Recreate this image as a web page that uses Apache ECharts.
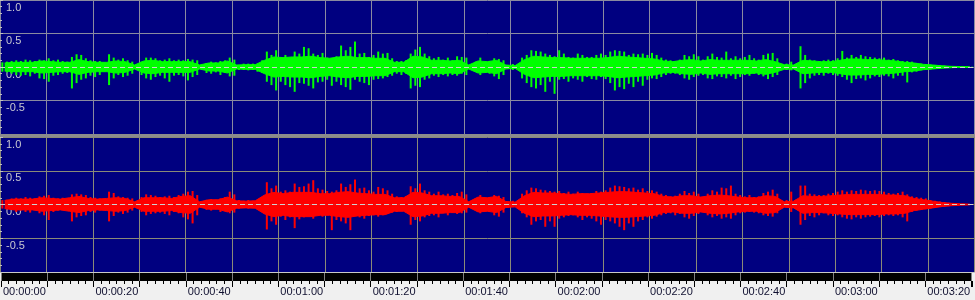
<!DOCTYPE html>
<html><head><meta charset="utf-8">
<script src="https://cdn.jsdelivr.net/npm/echarts@6/dist/echarts.min.js"></script>
<style>html,body{margin:0;padding:0;background:#f0f0f0;}#c{width:975px;height:300px;}</style>
</head><body><div id="c"></div>
<script>
// ---- data (amplitude envelopes) ----
// per-second peaks, seconds 0..209
const leftHi = [
0.07,0.08,0.09,0.10,0.09,0.11,0.10,0.09,0.11,0.10,
0.13,0.10,0.11,0.09,0.08,0.15,0.19,0.18,0.13,0.10,
0.09,0.09,0.05,0.19,0.14,0.11,0.13,0.10,0.08,0.025,
0.08,0.14,0.14,0.13,0.10,0.11,0.13,0.10,0.11,0.10,
0.12,0.11,0.10,0.03,0.06,0.08,0.07,0.09,0.10,0.14,
0.11,0.03,0.05,0.05,0.05,0.03,0.10,0.23,0.18,0.25,
0.15,0.18,0.13,0.23,0.20,0.30,0.28,0.20,0.18,0.21,
0.14,0.13,0.16,0.32,0.25,0.30,0.38,0.20,0.21,0.15,
0.18,0.23,0.20,0.21,0.13,0.09,0.09,0.10,0.20,0.26,
0.30,0.20,0.16,0.13,0.15,0.11,0.14,0.10,0.16,0.15,
0.14,0.025,0.08,0.14,0.08,0.09,0.13,0.12,0.10,0.03,
0.045,0.025,0.14,0.18,0.25,0.24,0.23,0.20,0.18,0.16,
0.25,0.20,0.15,0.14,0.20,0.18,0.15,0.15,0.18,0.20,
0.18,0.23,0.25,0.24,0.23,0.18,0.20,0.19,0.20,0.18,
0.21,0.18,0.14,0.11,0.10,0.09,0.11,0.18,0.16,0.19,
0.16,0.11,0.16,0.20,0.15,0.14,0.23,0.13,0.16,0.13,
0.15,0.18,0.13,0.11,0.18,0.20,0.21,0.13,0.045,0.05,
0.08,0.04,0.31,0.18,0.11,0.10,0.09,0.10,0.11,0.10,
0.13,0.24,0.14,0.18,0.15,0.18,0.16,0.15,0.14,0.13,
0.14,0.11,0.12,0.10,0.09,0.09,0.08,0.06,0.05,0.045,
0.035,0.03,0.025,0.02,0.015,0.01,0.008,0.006,0.005,0.005];
const leftLo = [
-0.07,-0.08,-0.10,-0.12,-0.13,-0.12,-0.14,-0.10,-0.17,-0.18,
-0.22,-0.13,-0.12,-0.10,-0.09,-0.32,-0.24,-0.19,-0.17,-0.13,
-0.15,-0.12,-0.07,-0.27,-0.17,-0.12,-0.15,-0.13,-0.10,-0.025,
-0.12,-0.17,-0.19,-0.15,-0.13,-0.17,-0.22,-0.13,-0.12,-0.14,
-0.20,-0.15,-0.12,-0.025,-0.09,-0.10,-0.08,-0.12,-0.09,-0.14,
-0.13,-0.045,-0.045,-0.05,-0.045,-0.07,-0.09,-0.22,-0.27,-0.35,
-0.22,-0.27,-0.30,-0.37,-0.24,-0.25,-0.28,-0.32,-0.23,-0.22,
-0.19,-0.28,-0.22,-0.27,-0.30,-0.34,-0.19,-0.22,-0.24,-0.27,
-0.19,-0.18,-0.17,-0.15,-0.13,-0.10,-0.12,-0.10,-0.32,-0.28,
-0.30,-0.19,-0.17,-0.13,-0.15,-0.12,-0.14,-0.12,-0.13,-0.10,
-0.12,-0.025,-0.07,-0.12,-0.07,-0.10,-0.14,-0.18,-0.12,-0.03,
-0.045,-0.02,-0.17,-0.24,-0.30,-0.32,-0.27,-0.37,-0.22,-0.40,
-0.19,-0.18,-0.22,-0.17,-0.19,-0.22,-0.15,-0.18,-0.19,-0.15,
-0.18,-0.24,-0.35,-0.30,-0.33,-0.25,-0.30,-0.22,-0.28,-0.19,
-0.17,-0.18,-0.15,-0.12,-0.10,-0.10,-0.12,-0.17,-0.19,-0.15,
-0.13,-0.12,-0.17,-0.18,-0.14,-0.15,-0.17,-0.13,-0.18,-0.15,
-0.12,-0.13,-0.10,-0.12,-0.14,-0.18,-0.15,-0.12,-0.035,-0.045,
-0.05,-0.045,-0.32,-0.24,-0.17,-0.13,-0.12,-0.13,-0.10,-0.12,
-0.13,-0.15,-0.19,-0.24,-0.18,-0.17,-0.20,-0.17,-0.14,-0.15,
-0.13,-0.14,-0.17,-0.13,-0.13,-0.23,-0.08,-0.07,-0.05,-0.045,
-0.035,-0.025,-0.02,-0.015,-0.01,-0.01,-0.008,-0.006,-0.005,-0.005];
// dense body of the waveform, one value per 2 seconds (0-2, 2-4, ...)
const leftCore = [
0.06,0.07,0.07,0.07,0.09,0.08,0.07,0.07,0.11,0.08,
0.07,0.07,0.09,0.08,0.03,0.09,0.10,0.08,0.08,0.08,
0.08,0.03,0.06,0.06,0.09,0.03,0.035,0.035,0.10,0.15,
0.14,0.15,0.15,0.16,0.14,0.13,0.15,0.16,0.14,0.14,
0.13,0.13,0.07,0.07,0.16,0.15,0.10,0.10,0.09,0.10,
0.03,0.09,0.08,0.10,0.03,0.02,0.11,0.16,0.15,0.14,
0.14,0.13,0.13,0.13,0.13,0.14,0.16,0.15,0.14,0.13,
0.12,0.09,0.08,0.10,0.11,0.09,0.11,0.10,0.10,0.10,
0.10,0.09,0.11,0.08,0.035,0.03,0.10,0.09,0.08,0.08,
0.10,0.12,0.12,0.11,0.11,0.10,0.09,0.07,0.06,0.04,
0.03,0.018,0.01,0.006,0.004];

const rightHi = [
0.065,0.07,0.09,0.10,0.09,0.11,0.10,0.09,0.12,0.13,
0.14,0.10,0.09,0.10,0.09,0.15,0.16,0.15,0.14,0.11,
0.10,0.09,0.07,0.19,0.17,0.12,0.11,0.10,0.09,0.04,
0.11,0.15,0.14,0.13,0.11,0.12,0.13,0.11,0.14,0.16,
0.19,0.20,0.14,0.04,0.07,0.08,0.07,0.09,0.11,0.19,
0.15,0.065,0.055,0.065,0.055,0.065,0.09,0.33,0.24,0.28,
0.19,0.21,0.19,0.31,0.26,0.27,0.31,0.36,0.24,0.22,
0.20,0.19,0.21,0.31,0.26,0.30,0.37,0.24,0.25,0.21,
0.19,0.26,0.24,0.21,0.16,0.12,0.11,0.12,0.27,0.24,
0.31,0.21,0.19,0.16,0.19,0.15,0.16,0.14,0.17,0.19,
0.15,0.04,0.09,0.14,0.09,0.11,0.14,0.13,0.11,0.04,
0.055,0.035,0.16,0.21,0.25,0.24,0.22,0.21,0.20,0.19,
0.20,0.17,0.19,0.16,0.19,0.17,0.16,0.17,0.20,0.19,
0.21,0.25,0.28,0.27,0.26,0.24,0.25,0.22,0.24,0.20,
0.21,0.19,0.16,0.14,0.12,0.13,0.16,0.20,0.17,0.19,
0.16,0.11,0.16,0.21,0.19,0.25,0.24,0.28,0.16,0.14,
0.12,0.14,0.11,0.12,0.17,0.19,0.22,0.16,0.055,0.065,
0.19,0.07,0.28,0.28,0.16,0.15,0.14,0.14,0.16,0.17,
0.19,0.21,0.19,0.21,0.20,0.22,0.21,0.20,0.21,0.20,
0.19,0.17,0.16,0.17,0.19,0.15,0.12,0.11,0.10,0.09,
0.065,0.055,0.045,0.035,0.025,0.02,0.015,0.01,0.008,0.006];
const rightLo = [
-0.06,-0.07,-0.08,-0.11,-0.09,-0.11,-0.12,-0.08,-0.13,-0.16,
-0.23,-0.11,-0.09,-0.08,-0.07,-0.25,-0.19,-0.17,-0.16,-0.11,
-0.12,-0.09,-0.06,-0.25,-0.17,-0.12,-0.14,-0.12,-0.09,-0.035,
-0.11,-0.16,-0.14,-0.13,-0.12,-0.14,-0.16,-0.11,-0.13,-0.19,
-0.22,-0.28,-0.16,-0.035,-0.08,-0.09,-0.07,-0.11,-0.09,-0.13,
-0.12,-0.06,-0.05,-0.06,-0.05,-0.07,-0.09,-0.37,-0.25,-0.30,
-0.18,-0.23,-0.19,-0.35,-0.22,-0.19,-0.17,-0.21,-0.16,-0.18,
-0.14,-0.38,-0.23,-0.25,-0.28,-0.38,-0.16,-0.19,-0.21,-0.17,
-0.16,-0.18,-0.16,-0.14,-0.12,-0.11,-0.09,-0.11,-0.30,-0.23,
-0.25,-0.19,-0.17,-0.16,-0.19,-0.13,-0.16,-0.12,-0.14,-0.13,
-0.12,-0.045,-0.08,-0.13,-0.08,-0.11,-0.16,-0.18,-0.12,-0.045,
-0.035,-0.025,-0.13,-0.19,-0.30,-0.25,-0.23,-0.33,-0.25,-0.33,
-0.21,-0.19,-0.17,-0.16,-0.19,-0.23,-0.19,-0.21,-0.25,-0.30,
-0.23,-0.25,-0.28,-0.33,-0.38,-0.28,-0.33,-0.25,-0.23,-0.19,
-0.21,-0.18,-0.16,-0.14,-0.13,-0.16,-0.14,-0.19,-0.21,-0.17,
-0.14,-0.11,-0.16,-0.19,-0.17,-0.21,-0.19,-0.21,-0.16,-0.13,
-0.12,-0.11,-0.12,-0.13,-0.16,-0.17,-0.18,-0.13,-0.045,-0.035,
-0.11,-0.06,-0.30,-0.23,-0.17,-0.19,-0.16,-0.13,-0.16,-0.17,
-0.16,-0.19,-0.21,-0.22,-0.19,-0.21,-0.19,-0.18,-0.17,-0.19,
-0.17,-0.16,-0.17,-0.16,-0.19,-0.25,-0.11,-0.09,-0.08,-0.07,
-0.06,-0.045,-0.035,-0.03,-0.025,-0.02,-0.015,-0.01,-0.008,-0.006];
const rightCore = [
0.06,0.08,0.08,0.08,0.10,0.09,0.08,0.10,0.12,0.09,
0.08,0.09,0.10,0.09,0.04,0.10,0.10,0.10,0.09,0.12,
0.13,0.04,0.07,0.07,0.11,0.055,0.05,0.055,0.14,0.18,
0.16,0.18,0.18,0.18,0.16,0.16,0.18,0.19,0.17,0.16,
0.15,0.15,0.10,0.10,0.18,0.17,0.13,0.13,0.12,0.12,
0.04,0.11,0.10,0.12,0.045,0.035,0.13,0.18,0.17,0.17,
0.16,0.15,0.16,0.16,0.17,0.18,0.19,0.19,0.18,0.17,
0.16,0.12,0.11,0.13,0.13,0.11,0.13,0.14,0.13,0.11,
0.10,0.10,0.13,0.12,0.04,0.05,0.13,0.12,0.12,0.13,
0.14,0.15,0.15,0.15,0.15,0.14,0.14,0.13,0.09,0.07,
0.05,0.03,0.018,0.01,0.006];

const ampTicks = [1, 0.5, 0, -0.5];
const ampLabels = ['1.0', '0.5', '0.0', '-0.5'];
const timeLabels = ['00:00:00','00:00:20','00:00:40','00:01:00','00:01:20','00:01:40',
  '00:02:00','00:02:20','00:02:40','00:03:00','00:03:20'];

// ---- chart ----
const FONT = 'Liberation Sans';
const T_MAX = 210.1;
const chart = echarts.init(document.getElementById('c'), null, {renderer: 'canvas'});

function panelX(gi, color) {
  return {
    type: 'value', gridIndex: gi, min: 0, max: T_MAX, interval: 10,
    axisLine: {show: false}, axisTick: {show: false}, axisLabel: {show: false},
    splitLine: {show: true, showMaxLine: false, lineStyle: {color: color, width: 1}}
  };
}
function panelY(gi, color) {
  return {
    type: 'value', gridIndex: gi, min: -1, max: 1, interval: 0.5,
    axisLine: {show: false},
    axisTick: {show: true, inside: true, length: 3, lineStyle: {color: '#c0c0c0'}},
    minorTick: {show: true, splitNumber: 5, length: 2, lineStyle: {color: '#c0c0c0'}},
    splitLine: {show: true, lineStyle: {color: color, width: 1}},
    axisLabel: {
      inside: true, margin: 6, verticalAlign: 'top', padding: [2, 0, 0, 0],
      color: '#c8c8d0', fontSize: 11, fontFamily: FONT,
      formatter: v => { const k = ampTicks.indexOf(v); return k >= 0 ? ampLabels[k] : ''; }
    }
  };
}
function channelSeries(gi, hi, lo, core, color) {
  const peakPos = hi.map((v, i) => [i + 0.5, v]);
  const peakNeg = lo.map((v, i) => [i + 0.5, v]);
  const corePos = core.map((v, i) => [2 * i + 1, v]);
  const coreNeg = core.map((v, i) => [2 * i + 1, -v]);
  const common = {xAxisIndex: gi, yAxisIndex: gi, silent: true, animation: false};
  const area = {type: 'line', symbol: 'none', z: 2,
    lineStyle: {width: 1, color: color}, areaStyle: {color: color, opacity: 1, origin: 0}};
  return [
    Object.assign({data: corePos}, area, common),
    Object.assign({data: coreNeg}, area, common),
    Object.assign({type: 'bar', data: peakPos, barWidth: 2, barGap: '-100%', z: 3,
      itemStyle: {color: color}}, common),
    Object.assign({type: 'bar', data: peakNeg, barWidth: 2, barGap: '-100%', z: 4,
      itemStyle: {color: color},
      markLine: {silent: true, symbol: ['none', 'none'], label: {show: false},
        lineStyle: {color: '#d0d0d0', type: [5, 3], width: 1},
        data: [{yAxis: 0}], animation: false}}, common)
  ];
}

const option = {
  animation: false,
  backgroundColor: '#f0f0f0',
  grid: [
    {left: 0, top: 0, width: 975, height: 134, show: true, backgroundColor: '#000080', borderWidth: 0},
    {left: 0, top: 137, width: 975, height: 135, show: true, backgroundColor: '#000080', borderWidth: 0},
    {left: 0, top: 273, width: 975, height: 8, show: true, backgroundColor: '#000000', borderWidth: 0}
  ],
  xAxis: [
    panelX(0, '#8a8aa0'),
    panelX(1, '#8a8a78'),
    {
      type: 'value', gridIndex: 2, min: 0, max: T_MAX, interval: 10, position: 'bottom',
      axisLine: {show: false},
      axisTick: {show: true, length: 6, lineStyle: {color: '#000000'}},
      minorTick: {show: true, splitNumber: 6, length: 3, lineStyle: {color: '#000000'}},
      splitLine: {show: true, showMaxLine: false, lineStyle: {color: '#808080'}},
      axisLabel: {
        show: true, margin: 5, align: 'left', padding: [0, 0, 0, 2],
        color: '#101030', fontSize: 11, fontFamily: FONT,
        formatter: v => (v % 20 === 0 && v / 20 < timeLabels.length) ? timeLabels[v / 20] : ''
      }
    }
  ],
  yAxis: [
    panelY(0, '#8a8aa0'),
    panelY(1, '#8a8a78'),
    {type: 'value', gridIndex: 2, show: false, min: 0, max: 1}
  ],
  series: [].concat(
    channelSeries(0, leftHi, leftLo, leftCore, '#00ff00'),
    channelSeries(1, rightHi, rightLo, rightCore, '#ff0000')
  ),
  graphic: [
    {type: 'rect', left: 0, top: 134, shape: {width: 975, height: 3}, style: {fill: '#8c8c8c'}, z: 100, silent: true},
    {type: 'rect', left: 0, top: 272, shape: {width: 975, height: 1}, style: {fill: '#c8c8c8'}, z: 100, silent: true}
  ]
};
chart.setOption(option);
</script>
</body></html>
